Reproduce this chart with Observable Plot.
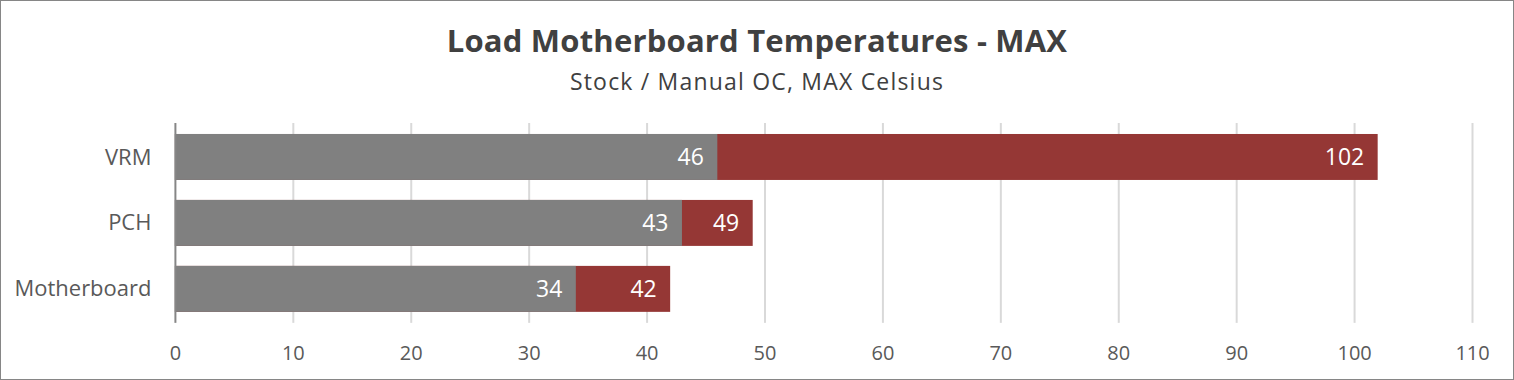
<!DOCTYPE html>
<html>
<head>
<meta charset="utf-8">
<script src="https://cdn.jsdelivr.net/npm/d3@7"></script>
<script src="https://cdn.jsdelivr.net/npm/@observablehq/plot@0.6"></script>
<style>
  html, body { margin: 0; padding: 0; background: #fff; }
  #frame { position: relative; width: 1514px; height: 380px; box-sizing: border-box; border: 1px solid #868686; overflow: hidden; font-family: "Open Sans", sans-serif; }
  #title { position: absolute; left: 0; right: 0; top: 21px; text-align: center; font-size: 31px; font-weight: 700; color: #404040; line-height: 36px; letter-spacing: 0.2px; }
  #subtitle { position: absolute; left: 0; right: 0; top: 66px; text-align: center; font-size: 23px; color: #404040; line-height: 28px; letter-spacing: 1.2px; }
  #chart { position: absolute; left: -1px; top: 109px; }
  #chart svg g[aria-label="y-axis tick label"] text { font-size: 22px; }
  #chart svg g[aria-label="x-axis tick label"] text { font-size: 20px; }
</style>
</head>
<body>
<div id="frame">
  <div id="title">Load Motherboard Temperatures - MAX</div>
  <div id="subtitle">Stock / Manual OC, MAX Celsius</div>
  <div id="chart"></div>
</div>
<script>
const categories = ["VRM", "PCH", "Motherboard"];
const stock = [46, 43, 34];
const manualOC = [102, 49, 42];
const xTicks = [0, 10, 20, 30, 40, 50, 60, 70, 80, 90, 100, 110];

const stockData = categories.map((c, i) => ({ cat: c, value: stock[i] }));
const ocData = categories.map((c, i) => ({ cat: c, value: manualOC[i] }));

const plot = Plot.plot({
  width: 1514,
  height: 270,
  marginLeft: 175,
  marginRight: 41,
  marginTop: 13,
  marginBottom: 57,
  style: { fontFamily: "Open Sans, sans-serif", fontSize: "20px", color: "#595959", background: "transparent" },
  x: { domain: [0, 110], label: null },
  y: { domain: categories, paddingInner: 0.31, paddingOuter: 0.155, label: null },
  marks: [
    Plot.ruleX(xTicks.filter(d => d > 0), { stroke: "#d9d9d9", strokeWidth: 2 }),
    Plot.barX(ocData, { y: "cat", x1: 0, x2: "value", fill: "#953735" }),
    Plot.barX(stockData, { y: "cat", x1: 0, x2: "value", fill: "#808080" }),
    Plot.ruleX([0], { stroke: "#868686", strokeWidth: 2 }),
    Plot.axisX({ ticks: xTicks, tickSize: 0, tickPadding: 22, fontSize: 20, fill: "#595959" }),
    Plot.axisY({ tickSize: 0, tickPadding: 24, fontSize: 22, fill: "#595959" }),
    Plot.text(ocData, { y: "cat", x: "value", text: d => String(d.value), textAnchor: "end", dx: -14, fill: "white", fontSize: 23 }),
    Plot.text(stockData, { y: "cat", x: "value", text: d => String(d.value), textAnchor: "end", dx: -14, fill: "white", fontSize: 23 })
  ]
});
document.getElementById("chart").appendChild(plot);
</script>
</body>
</html>
